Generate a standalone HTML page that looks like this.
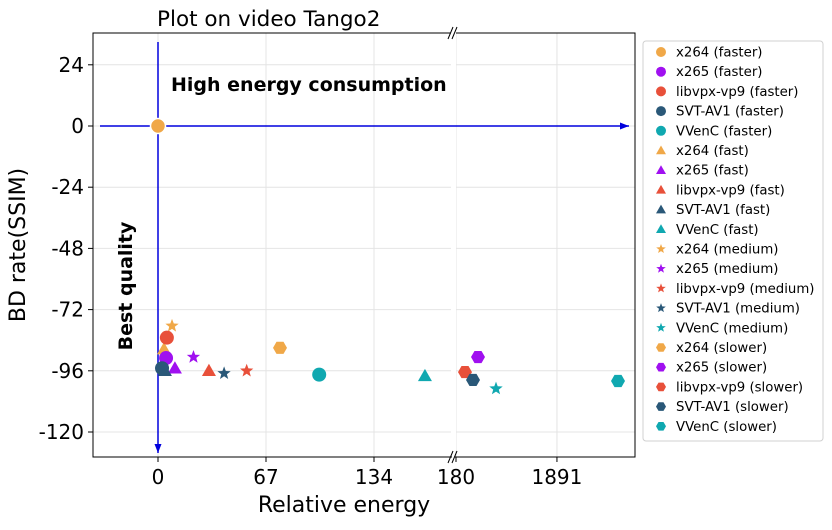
<!DOCTYPE html>
<html><head><meta charset="utf-8"><style>
body{margin:0;background:#fff;}
svg{font-family:"DejaVu Sans","Liberation Sans",sans-serif;}
</style></head><body>
<svg id="c" width="832" height="525"></svg>
<script>
const series = ["x264","x265","libvpx-vp9","SVT-AV1","VVenC"];
const colors = ["#f0a848","#a010f0","#e8503a","#2a5878","#10a8b0"];
const presets = ["faster","fast","medium","slower"];
const markers = ["circle","triangle","star","hexagon"];
const energyFaster = [0, 5, 5.5, 2.5, 100];
const energyFast = [3.7, 10.5, 31.6, 4.3, 165.6];
const energyMedium = [8.7, 22, 55, 41, 858];
const energySlower = [75.7, 553, 333, 468, 2926];
const bdFaster = [0, -91, -83, -95, -97.5];
const bdFast = [-87.5, -95, -96, -96, -98];
const bdMedium = [-78.4, -90.6, -96, -97, -103];
const bdSlower = [-87, -90.6, -96.5, -99.6, -100];
const yTicks = [24, 0, -24, -48, -72, -96, -120];
const xTicksLeft = [0, 67, 134];
const xTicksRight = [180, 1891];

const NS="http://www.w3.org/2000/svg";
const svg=document.getElementById('c');
function mk(t,a,p){const e=document.createElementNS(NS,t);for(const k in a)e.setAttribute(k,a[k]);(p||svg).appendChild(e);return e;}
const axTop=33,axBot=457,L1=93,R1=452,L2=455,R2=635;
const yS=v=>126-v*2.55;
const xL=v=>158+v*1.612;
const xR=v=>456+(v-180)*0.059;
function xS(v){return v<=181?xL(v):xR(v);}

for(const t of yTicks){const g=mk('line',{x1:L1,x2:R1,y1:yS(t),y2:yS(t),stroke:'#e4e4e4'});
 const g2=mk('line',{x1:L2,x2:R2,y1:yS(t),y2:yS(t),stroke:'#e4e4e4'});
 mk('line',{x1:L1-5,x2:L1,y1:yS(t),y2:yS(t),stroke:'#000'});
 const tx=mk('text',{x:L1-9,y:yS(t)+7,'text-anchor':'end','font-size':20});tx.textContent=t;
 }
function xtick(t,x){
 const g=mk('line',{x1:x,x2:x,y1:axTop,y2:axBot,stroke:'#e4e4e4'});
 mk('line',{x1:x,x2:x,y1:axBot,y2:axBot+5,stroke:'#000'});
 const tx=mk('text',{x:x,y:axBot+27,'text-anchor':'middle','font-size':20});tx.textContent=t;
 }
for(const t of xTicksLeft)xtick(t,xL(t));
for(const t of xTicksRight)xtick(t,xR(t));
mk('path',{d:`M${R1},${axTop}H${L1}V${axBot}H${R1}`,fill:'none',stroke:'#000'});
mk('path',{d:`M${L2},${axTop}H${R2}V${axBot}H${L2}`,fill:'none',stroke:'#000'});
mk('rect',{x:R1-1,y:axTop-8,width:L2-R1+2,height:axBot-axTop+2,fill:'#fff'});
mk('path',{d:`M448,${axTop+6}l5,-12M452,${axTop+6}l5,-12M448,${axBot+6}l5,-12M452,${axBot+6}l5,-12`,stroke:'#000'});

mk('defs',{}).innerHTML='<marker id="ah" markerUnits="userSpaceOnUse" markerWidth="10" markerHeight="8" refX="9" refY="4" orient="auto"><path d="M0,0.5L9,4L0,7.5Z" fill="#0000dd"/></marker>';
const ha=mk('line',{x1:100,x2:629,y1:126,y2:126,stroke:'#0000dd','stroke-width':1.5,'marker-end':'url(#ah)'});

const va=mk('line',{x1:158,x2:158,y1:42,y2:453,stroke:'#0000dd','stroke-width':1.5,'marker-end':'url(#ah)'});


function marker(type,x,y,col,r,parent){
 r=r||7;
 if(type==='circle')return mk('circle',{cx:x,cy:y,r:r,fill:col},parent);
 if(type==='triangle')return mk('polygon',{points:`${x},${y-r} ${x+r},${y+r*0.75} ${x-r},${y+r*0.75}`,fill:col},parent);
 if(type==='star'){let p=[];for(let i=0;i<10;i++){const a=-Math.PI/2+i*Math.PI/5,rr=i%2?r*0.42:r;p.push((x+rr*Math.cos(a)).toFixed(1)+','+(y+rr*Math.sin(a)).toFixed(1));}return mk('polygon',{points:p.join(' '),fill:col},parent);}
 let p=[];for(let i=0;i<6;i++){const a=i*Math.PI/3;p.push((x+r*Math.cos(a)).toFixed(1)+','+(y+r*Math.sin(a)).toFixed(1));}return mk('polygon',{points:p.join(' '),fill:col},parent);
}
const E=[energyFaster,energyFast,energyMedium,energySlower],B=[bdFaster,bdFast,bdMedium,bdSlower];
for(let p=presets.length-1;p>=0;p--)for(let s=0;s<series.length;s++){
 const m=marker(markers[p],xS(E[p][s]),yS(B[p][s]),colors[s],7);
 
 
}
const o=marker('circle',xS(energyFaster[0]),yS(bdFaster[0]),colors[0],7.5);o.setAttribute('stroke','#fff');o.setAttribute('stroke-width','1.5');



function txt(s,a,name){const t=mk('text',a);t.textContent=s;return t;}
txt('Plot on video Tango2',{x:157,y:26,'font-size':21.5},'chart-title');
txt('High energy consumption',{x:171,y:91,'font-size':19,'font-weight':'bold'},'high-energy-annotation');
txt('Best quality',{x:0,y:0,'font-size':19,'font-weight':'bold','text-anchor':'middle',transform:'translate(132,286) rotate(-90)'},'best-quality-annotation');
txt('Relative energy',{x:344,y:512,'font-size':22,'text-anchor':'middle'},'x-axis-title');
txt('BD rate(SSIM)',{x:0,y:0,'font-size':22,'text-anchor':'middle',transform:'translate(25,245) rotate(-90)'},'y-axis-title');

const lg=mk('g',{});
mk('rect',{x:643,y:41,width:180,height:400,rx:3,fill:'#fff',stroke:'#d0d0d0'},lg);
let i=0;
for(let p=0;p<presets.length;p++)for(let s=0;s<series.length;s++){
 const y=52+i*19.7;
 const g=mk('g',{},lg);
 marker(markers[p],661,y,colors[s],5,g);
 const t=mk('text',{x:676,y:y+4.5,'font-size':13.3},g);t.textContent=`${series[s]} (${presets[p]})`;
 i++;
}
</script>
</body></html>
